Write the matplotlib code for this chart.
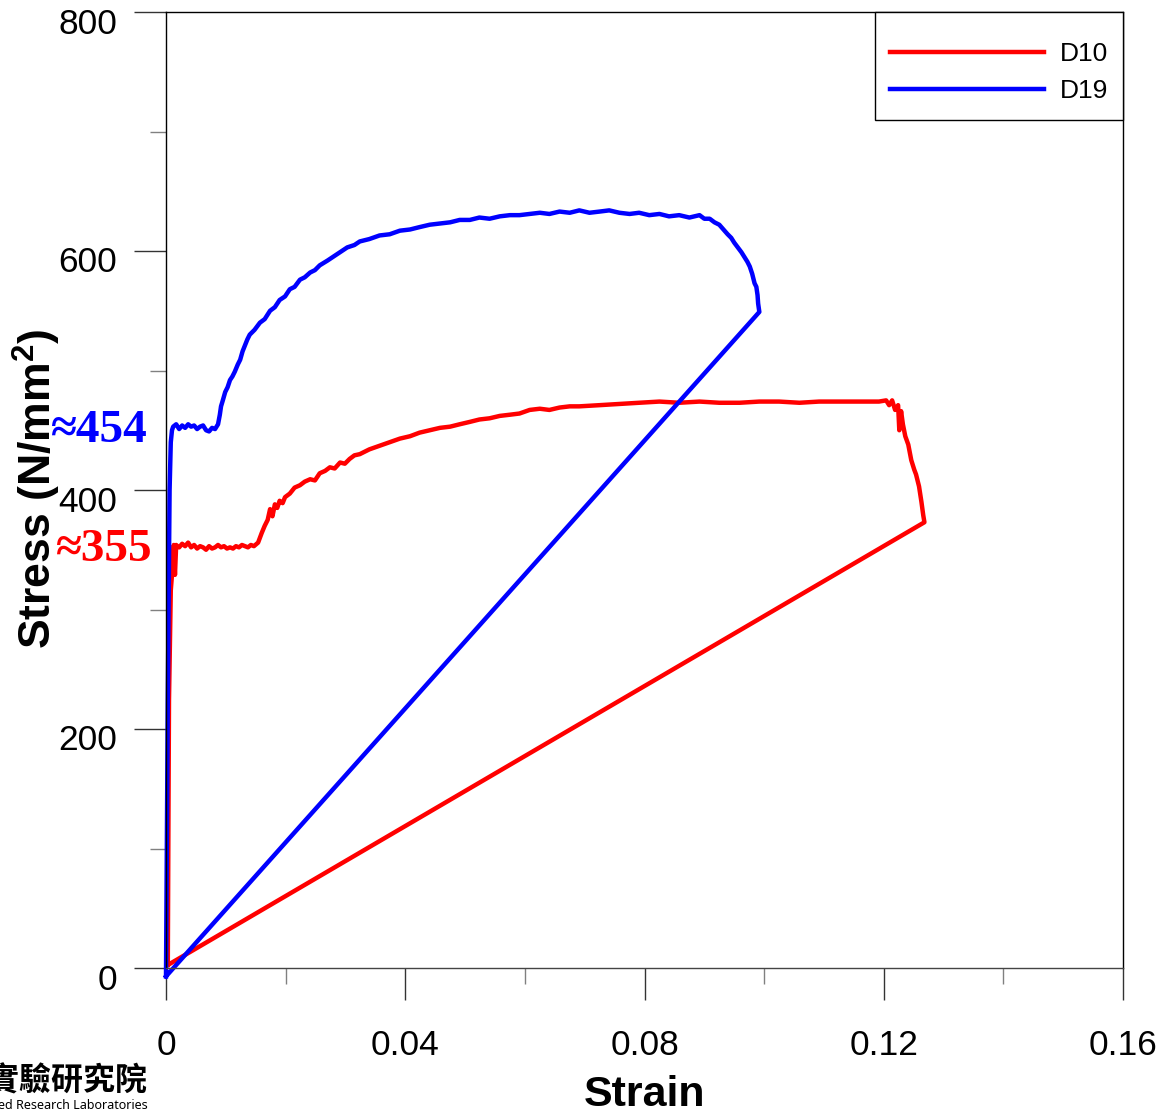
import matplotlib.pyplot as plt
from matplotlib.patches import Rectangle
from matplotlib.transforms import ScaledTranslation
from matplotlib.ticker import MultipleLocator

plt.rcParams['font.family'] = ['Liberation Sans', 'DejaVu Sans']
plt.rcParams['mathtext.fontset'] = 'custom'
plt.rcParams['mathtext.bf'] = 'Liberation Sans:bold'
plt.rcParams['mathtext.rm'] = 'Liberation Sans'

# --- data (strain [-], stress [N/mm2]) ---
d10_strain = [0.0003, 0.0005, 0.0008, 0.0010, 0.0013, 0.0015, 0.0017, 0.0022, 0.0027, 0.0032,
              0.0037, 0.0042, 0.0047, 0.0052, 0.0057, 0.0062, 0.0067, 0.0072, 0.0077, 0.0082,
              0.0087, 0.0092, 0.0097, 0.0102, 0.0107, 0.0112, 0.0117, 0.0122, 0.0127, 0.0132,
              0.0137, 0.0142, 0.0147, 0.0154, 0.0160, 0.0165, 0.0170, 0.0174, 0.0178, 0.0182,
              0.0186, 0.0190, 0.0195, 0.0199, 0.0207, 0.0215, 0.0224, 0.0232, 0.0241, 0.0249,
              0.0257, 0.0266, 0.0274, 0.0282, 0.0291, 0.0299, 0.0307, 0.0315, 0.0324, 0.0340,
              0.0357, 0.0374, 0.0391, 0.0408, 0.0424, 0.0441, 0.0458, 0.0475, 0.0491, 0.0508,
              0.0524, 0.0541, 0.0558, 0.0575, 0.0591, 0.0608, 0.0625, 0.0641, 0.0658, 0.0675,
              0.0691, 0.0725, 0.0758, 0.0791, 0.0825, 0.0858, 0.0892, 0.0925, 0.0959, 0.0992,
              0.1025, 0.1059, 0.1092, 0.1125, 0.1159, 0.1192, 0.1204, 0.1209, 0.1214, 0.1219,
              0.1224, 0.1226, 0.1229, 0.1232, 0.1236, 0.1241, 0.1246, 0.1251, 0.1254, 0.1259,
              0.1263, 0.1266, 0.1268, 0.0003]
d10_stress = [2.5, 224, 316, 329, 354, 329, 354, 352, 355, 353,
              356, 352, 354, 351, 353, 352, 350, 353, 351, 352,
              354, 352, 353, 351, 352, 351, 353, 352, 354, 353,
              352, 354, 353, 356, 364, 370, 375, 384, 378, 388,
              385, 391, 389, 394, 397, 402, 404, 407, 409, 408,
              414, 416, 419, 418, 423, 422, 426, 429, 430, 434,
              437, 440, 443, 445, 448, 450, 452, 453, 455, 457,
              459, 460, 462, 463, 464, 467, 468, 467, 469, 470,
              470, 471, 472, 473, 474, 473, 474, 473, 473, 474,
              474, 473, 474, 474, 474, 474, 475, 471, 475, 467,
              471, 450, 466, 455, 445, 438, 425, 417, 413, 403,
              390, 379, 373, 2.5]

d19_strain = [0.0, 0.0003, 0.0006, 0.0008, 0.0010, 0.0012, 0.0017, 0.0022, 0.0027, 0.0032,
              0.0037, 0.0042, 0.0047, 0.0052, 0.0057, 0.0062, 0.0067, 0.0072, 0.0077, 0.0082,
              0.0087, 0.0090, 0.0092, 0.0095, 0.0099, 0.0103, 0.0107, 0.0111, 0.0115, 0.0120,
              0.0124, 0.0128, 0.0132, 0.0136, 0.0140, 0.0148, 0.0157, 0.0165, 0.0174, 0.0182,
              0.0190, 0.0199, 0.0207, 0.0215, 0.0224, 0.0232, 0.0241, 0.0249, 0.0257, 0.0270,
              0.0282, 0.0291, 0.0303, 0.0315, 0.0324, 0.0340, 0.0357, 0.0374, 0.0391, 0.0408,
              0.0424, 0.0441, 0.0458, 0.0475, 0.0491, 0.0508, 0.0524, 0.0541, 0.0558, 0.0575,
              0.0591, 0.0608, 0.0625, 0.0641, 0.0658, 0.0675, 0.0691, 0.0708, 0.0725, 0.0741,
              0.0758, 0.0775, 0.0791, 0.0808, 0.0825, 0.0841, 0.0858, 0.0875, 0.0892, 0.0900,
              0.0909, 0.0917, 0.0925, 0.0932, 0.0939, 0.0945, 0.0950, 0.0956, 0.0962, 0.0967,
              0.0972, 0.0976, 0.0980, 0.0984, 0.0987, 0.0989, 0.0990, 0.0992, 0.0]
d19_stress = [-7, 224, 400, 440, 450, 453, 455, 451, 454, 452,
              455, 453, 454, 451, 453, 454, 450, 449, 452, 451,
              455, 463, 470, 475, 482, 486, 492, 495, 499, 505,
              509, 516, 521, 526, 530, 534, 540, 543, 550, 553,
              559, 562, 568, 570, 576, 578, 582, 584, 588, 592,
              596, 599, 603, 605, 608, 610, 613, 614, 617, 618,
              620, 622, 623, 624, 626, 626, 628, 627, 629, 630,
              630, 631, 632, 631, 633, 632, 634, 632, 633, 634,
              632, 631, 632, 630, 631, 629, 630, 628, 630, 627,
              627, 624, 622, 618, 614, 611, 607, 603, 599, 595,
              591, 587, 581, 573, 570, 563, 556, 549, -7]

labels = ["D10", "D19"]
colors = ["#FF0000", "#0000FF"]
yield_vals = [355, 454]

fig = plt.figure(figsize=(11.61, 11.11), dpi=100)
ax = fig.add_axes([166 / 1161, 1 - 968 / 1111, (1123 - 166) / 1161, (968 - 12) / 1111])

ax.plot(d10_strain, d10_stress, color=colors[0], lw=3.2, label=labels[0], clip_on=False)
ax.plot(d19_strain, d19_stress, color=colors[1], lw=3.2, label=labels[1], clip_on=False)

ax.set_xlim(0, 0.16)
ax.set_ylim(0, 800)
ax.xaxis.set_minor_locator(MultipleLocator(0.02))
ax.yaxis.set_major_locator(MultipleLocator(200))
ax.yaxis.set_minor_locator(MultipleLocator(100))
ax.set_xticks([0, 0.04, 0.08, 0.12, 0.16])
ax.set_xticklabels(["0", "0.04", "0.08", "0.12", "0.16"])

ax.tick_params(which="major", direction="out", length=23, width=1.0, color="#333333",
               labelsize=25.5)
ax.tick_params(which="minor", direction="out", length=11.5, width=1.0, color="#808080")
ax.tick_params(axis="x", which="major", pad=21)
ax.tick_params(axis="y", which="major", pad=12)
for sp in ax.spines.values():
    sp.set_linewidth(1.0)
ax.spines["bottom"].set_color("#444444")

# y tick labels sit a bit below their ticks in the original
off = ScaledTranslation(0, -8.5 / 100, fig.dpi_scale_trans)
for lab in ax.get_yticklabels():
    lab.set_transform(lab.get_transform() + off)

ax.set_xlabel("Strain", fontsize=31, fontweight="bold")
ax.xaxis.set_label_coords(0.5, -0.112)
ax.set_ylabel(r"Stress (N/mm$^{\mathbf{2}}$)", fontsize=32, fontweight="bold")
ax.yaxis.set_label_coords(-0.108, 0.501)

# yield annotations (drawn over the y label, as in the original)
serif = ["Liberation Serif", "DejaVu Serif"]
ax.annotate("\u2248" + str(yield_vals[1]), xy=(-0.0030, yield_vals[1]), xytext=(0, -4),
            textcoords="offset points", color=colors[1], fontsize=34, fontweight="bold",
            family=serif, ha="right", va="center", annotation_clip=False)
ax.annotate("\u2248" + str(yield_vals[0]), xy=(-0.0023, yield_vals[0]), xytext=(0, -4.5),
            textcoords="offset points", color=colors[0], fontsize=34, fontweight="bold",
            family=serif, ha="right", va="center", annotation_clip=False)

# legend: entries without their own frame, box drawn separately so the padding matches
ax.add_patch(Rectangle((0.7409, 0.8870), 0.2591, 0.1130, transform=ax.transAxes,
                       facecolor="white", edgecolor="black", lw=1.0, zorder=4,
                       clip_on=False))
leg = ax.legend(loc="upper left", bbox_to_anchor=(0.7565, 0.9686), borderaxespad=0,
                borderpad=0, fontsize=19, handlelength=5.83, handletextpad=0.6,
                labelspacing=0.49, frameon=False)
leg.set_zorder(5)

# watermark, cropped at the left edge in the reference
fig.text(148 / 1161, 1 - 1082 / 1111, "國家實驗研究院", fontsize=23, fontweight="bold",
         family=["Noto Sans CJK TC", "DejaVu Sans"], ha="right", va="center")
fig.text(148 / 1161, 1 - 1105 / 1111, "National Applied Research Laboratories", fontsize=9,
         family=["Noto Sans", "DejaVu Sans"], ha="right", va="center")

fig.savefig("out.png", dpi=100)
